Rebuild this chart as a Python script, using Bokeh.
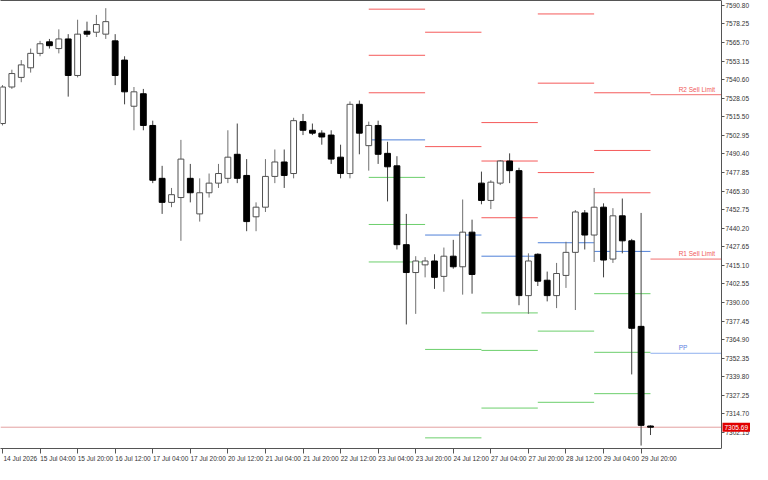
import math
from bokeh.plotting import figure
from bokeh.models import (ColumnDataSource, FixedTicker, LinearAxis, Range1d,
                          Label, NumeralTickFormatter, CustomJSTickFormatter)
from bokeh.embed import file_html
from bokeh.resources import INLINE
from bokeh.core.properties import value

# ---------------- data ----------------
bar_index = list(range(70))
open_ = [7510.90, 7535.59, 7542.08, 7548.58, 7558.32, 7566.12, 7561.57, 7568.07, 7543.38, 7573.26,
         7572.61, 7571.31, 7566.77, 7553.78, 7522.59, 7531.04, 7509.60, 7473.87, 7457.63, 7460.88,
         7473.87, 7449.84, 7464.13, 7470.63, 7473.87, 7490.11, 7475.82, 7447.89, 7454.38, 7475.17,
         7484.92, 7477.12, 7512.20, 7506.35, 7504.41, 7503.11, 7488.17, 7477.12, 7523.89, 7495.96,
         7509.60, 7490.76, 7482.32, 7429.05, 7410.21, 7415.41, 7418.01, 7407.61, 7421.26, 7414.11,
         7437.50, 7470.63, 7458.93, 7470.63, 7485.57, 7479.07, 7394.62, 7422.55, 7405.02, 7394.62,
         7408.26, 7423.85, 7450.49, 7435.55, 7454.38, 7419.31, 7448.54, 7431.65, 7373.83, 7306.50]
close = [7535.59, 7544.68, 7550.53, 7558.32, 7564.82, 7563.52, 7568.07, 7543.38, 7571.31, 7571.31,
         7577.81, 7579.76, 7543.38, 7532.34, 7532.34, 7509.60, 7472.57, 7457.63, 7462.83, 7486.87,
         7464.13, 7464.13, 7470.63, 7477.12, 7488.17, 7473.87, 7444.64, 7454.38, 7475.17, 7484.92,
         7475.82, 7512.85, 7506.35, 7504.41, 7501.81, 7486.87, 7477.12, 7523.89, 7504.41, 7509.60,
         7490.11, 7481.67, 7429.05, 7410.21, 7418.01, 7418.01, 7406.96, 7421.26, 7414.11, 7437.50,
         7408.91, 7458.93, 7471.28, 7485.57, 7479.07, 7394.62, 7418.01, 7404.37, 7394.62, 7409.56,
         7423.85, 7451.14, 7435.55, 7454.38, 7418.66, 7448.54, 7431.65, 7372.54, 7306.93, 7305.69]
high = [7536.89, 7547.28, 7553.78, 7561.57, 7566.77, 7568.07, 7574.56, 7571.31, 7581.06, 7579.76,
        7584.31, 7588.85, 7571.31, 7556.37, 7535.59, 7534.29, 7512.85, 7482.32, 7467.38, 7499.86,
        7483.62, 7473.87, 7477.12, 7483.62, 7506.35, 7510.90, 7486.87, 7457.63, 7486.87, 7493.36,
        7493.36, 7514.80, 7517.40, 7510.90, 7506.35, 7506.35, 7496.61, 7525.84, 7526.49, 7512.20,
        7512.85, 7498.56, 7488.82, 7449.84, 7421.26, 7420.61, 7422.55, 7427.10, 7432.30, 7459.58,
        7445.94, 7478.42, 7472.57, 7486.22, 7490.76, 7481.02, 7423.20, 7423.20, 7410.86, 7416.71,
        7431.00, 7452.44, 7452.44, 7467.38, 7456.98, 7453.73, 7460.23, 7432.95, 7450.49, 7306.93]
low = [7509.60, 7534.29, 7538.83, 7545.33, 7556.37, 7561.57, 7558.32, 7529.09, 7542.08, 7569.37,
       7569.37, 7568.07, 7536.89, 7523.89, 7506.35, 7506.35, 7470.63, 7449.84, 7454.38, 7431.65,
       7457.63, 7444.64, 7460.88, 7467.38, 7470.63, 7470.63, 7438.15, 7438.15, 7451.14, 7470.63,
       7467.38, 7473.87, 7503.11, 7503.11, 7496.61, 7483.62, 7473.87, 7473.87, 7490.11, 7479.07,
       7483.62, 7458.28, 7425.80, 7375.13, 7382.28, 7406.96, 7399.17, 7397.22, 7412.81, 7395.27,
       7395.92, 7456.33, 7453.09, 7469.33, 7470.63, 7388.12, 7382.28, 7401.12, 7390.72, 7386.18,
       7399.82, 7384.88, 7425.80, 7417.36, 7406.96, 7416.71, 7423.20, 7341.36, 7293.29, 7300.40]

tick_bars = [0, 4, 8, 12, 16, 20, 24, 28, 32, 36, 40, 44, 48, 52, 56, 60, 64, 68]
tick_labels = ["14 Jul 2026", "15 Jul 04:00", "15 Jul 20:00", "16 Jul 12:00", "17 Jul 04:00",
               "17 Jul 20:00", "20 Jul 12:00", "21 Jul 04:00", "21 Jul 20:00", "22 Jul 12:00",
               "23 Jul 04:00", "23 Jul 20:00", "24 Jul 12:00", "27 Jul 04:00", "27 Jul 20:00",
               "28 Jul 12:00", "29 Jul 04:00", "29 Jul 20:00"]

price_ticks = [7590.80, 7578.25, 7565.70, 7553.15, 7540.60, 7528.05, 7515.50, 7502.95, 7490.40,
               7477.85, 7465.30, 7452.75, 7440.20, 7427.65, 7415.10, 7402.55, 7390.00, 7377.45,
               7364.90, 7352.35, 7339.80, 7327.25, 7314.70, 7302.15]

# daily pivot levels (bar where each day starts / ends)
pivot_start = [39, 45, 51, 57, 63]
pivot_end = [45, 51, 57, 63, 69]
nan = float("nan")
R3 = [7588.20, nan, 7511.55, 7584.96, 7531.69]
R2 = [7557.02, 7572.61, 7485.57, 7538.19, 7492.71]
R1 = [7531.69, 7495.31, 7447.24, 7477.77, 7464.13]
PP = [7499.86, 7435.55, 7421.26, 7430.35, 7424.50]
S1 = [7474.52, 7358.25, 7382.93, 7370.63, 7395.92]
S2 = [7442.69, 7298.49, 7357.60, 7322.52, 7356.30]
S3 = [7417.36, nan, 7318.62, nan, 7328.36]

# current day orders
order_start = 69
order_names = ["R2 Sell Limit", "R1 Sell Limit", "PP"]
order_levels = [7530.39, 7419.31, 7355.65]

last_price = 7305.69

# ---------------- figure ----------------
W, H = 752, 464
AXIS_COL = 31                      # px reserved right of the price-axis line
X0, XA = -0.21, 76.56              # visible bar span (left edge .. price axis line)
XEND = XA + AXIS_COL * (XA - X0) / (W - AXIS_COL)

p = figure(width=W, height=H, output_backend="svg", toolbar_location=None,
           x_range=Range1d(X0, XEND), y_range=Range1d(7291.3, 7594.05),
           y_axis_location="right", min_border_left=0, min_border_top=0,
           min_border_right=0, min_border_bottom=0)
p.grid.visible = False
p.outline_line_color = None
p.background_fill_color = "white"

FONT = "Liberation Sans"
AX = "#555555"

# right price axis drawn at the fixed x position XA
ya = p.yaxis[0]
ya.fixed_location = XA
ya.ticker = FixedTicker(ticks=price_ticks, minor_ticks=[])
ya.formatter = NumeralTickFormatter(format="0.00")
ya.major_label_text_font = FONT
ya.major_label_text_font_size = "6.5px"
ya.major_label_text_color = "#333333"
ya.major_tick_out = 3
ya.major_tick_in = 0
ya.major_label_standoff = 1
ya.axis_line_color = AX
ya.major_tick_line_color = AX

# bottom time axis: tick marks at bars (minor), labels left-aligned (major hidden)
LOFF = 1.9
xa = p.xaxis[0]
xa.bounds = (X0, XA)
xa.ticker = FixedTicker(ticks=[b + LOFF for b in tick_bars], minor_ticks=tick_bars)
xa.formatter = CustomJSTickFormatter(args=dict(bars=tick_bars, labels=tick_labels, off=LOFF), code="""
    const k = bars.indexOf(Math.round(tick - off));
    return k >= 0 ? labels[k] : "";
""")
xa.major_tick_line_color = None
xa.major_tick_out = 0
xa.major_tick_in = 0
xa.minor_tick_out = 5
xa.minor_tick_in = 0
xa.minor_tick_line_color = AX
xa.axis_line_color = AX
xa.major_label_standoff = 1
xa.major_label_text_font = FONT
xa.major_label_text_font_size = "6.5px"
xa.major_label_text_color = "#333333"

# top border line
top = LinearAxis(ticker=FixedTicker(ticks=[]), major_label_text_font_size="0px", bounds=(X0, XA),
                 axis_line_color=AX, major_tick_line_color=None, minor_tick_line_color=None)
p.add_layout(top, "above")

# ---------------- pivots ----------------
RED, GREEN, BLUE = "#f55a5a", "#6ccf6c", "#4f80d8"
for lv, col in [(R3, RED), (R2, RED), (R1, RED), (PP, BLUE), (S1, GREEN), (S2, GREEN), (S3, GREEN)]:
    xs0, xs1, ys = [], [], []
    for s, e, v in zip(pivot_start, pivot_end, lv):
        if not math.isnan(v):
            xs0.append(s); xs1.append(e); ys.append(v)
    p.segment(x0=xs0, x1=xs1, y0=ys, y1=ys, line_color=col, line_width=1)

order_cols = ["#f27070", "#f27070", "#8fb0ee"]
order_text_cols = ["#f05a5a", "#f05a5a", "#5b7fe0"]
p.segment(x0=[order_start] * 3, x1=[XA] * 3, y0=order_levels, y1=order_levels,
          line_color=order_cols, line_width=1)
p.text(x=[72.0] * 3, y=order_levels, text=order_names, text_color=order_text_cols,
       text_font=value(FONT), text_font_size="6.5px", text_baseline="bottom",
       text_align="left", y_offset=-2)

# current price line
p.segment(x0=[X0], x1=[XA], y0=[last_price], y1=[last_price], line_color="#e3a0a0", line_width=1)

# ---------------- candles ----------------
up = [c >= o for o, c in zip(open_, close)]
src = ColumnDataSource(dict(
    x=bar_index, o=open_, c=close, h=high, l=low,
    top=[max(o, c) for o, c in zip(open_, close)],
    bot=[min(o, c) for o, c in zip(open_, close)],
    fill=["white" if u else "black" for u in up],
    line=["#505050" if u else "black" for u in up],
    wick=["#707070" if u else "#404040" for u in up],
))
p.segment(x0="x", x1="x", y0="l", y1="h", source=src, line_color="wick", line_width=1)
p.vbar(x="x", width=0.62, top="top", bottom="bot", source=src,
       fill_color="fill", line_color="line", line_width=1)

# price box on the axis
box = Label(x=XA, y=last_price, text="7305.69", x_offset=1, level="overlay",
            text_font=FONT, text_font_size="6.5px", text_color="white",
            text_baseline="middle", background_fill_color="#e00000")
try:
    box.padding = 2
except Exception:
    pass
p.add_layout(box)

open("out.html", "w").write(file_html(p, INLINE))
